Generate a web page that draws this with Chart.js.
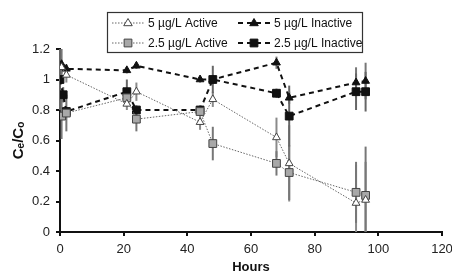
<!DOCTYPE html>
<html>
<head>
<meta charset="utf-8">
<script src="https://cdn.jsdelivr.net/npm/chart.js@4"></script>
<style>
  html, body { margin: 0; padding: 0; background: #fff; }
  #wrap { width: 452px; height: 272px; }
</style>
</head>
<body>
<div id="wrap"><canvas id="chartpoint" width="452" height="272"></canvas></div>
<script>
// hours for each series
const hours_5_active = [0.5, 2, 21, 24, 44, 48, 68, 72, 93, 96];
const ratio_5_active = [1.08, 1.03, 0.84, 0.92, 0.72, 0.87, 0.62, 0.45, 0.19, 0.21];
const err_5_active = [0.04, 0.05, 0.04, 0.06, 0.05, 0.05, 0.13, 0.25, 0.25, 0.25];

const hours_5_inactive = [0.5, 2, 21, 24, 44, 48, 68, 72, 93, 96];
const ratio_5_inactive = [1.1, 1.07, 1.06, 1.09, 1.0, 1.0, 1.11, 0.88, 0.98, 0.99];
const err_5_inactive = [0.1, 0.03, 0.02, 0.02, 0.02, 0.03, 0.04, 0.04, 0.1, 0.12];

const hours_25_active = [0.5, 2, 21, 24, 44, 48, 68, 72, 93, 96];
const ratio_25_active = [0.76, 0.78, 0.88, 0.74, 0.79, 0.58, 0.45, 0.39, 0.26, 0.24];
const err_25_active = [0.15, 0.12, 0.06, 0.08, 0.03, 0.11, 0.08, 0.18, 0.2, 0.32];

const hours_25_inactive = [0, 1, 2, 21, 24, 44, 48, 68, 72, 93, 96];
const ratio_25_inactive = [1.0, 0.9, 0.79, 0.92, 0.8, 0.8, 1.0, 0.91, 0.76, 0.92, 0.92];
const err_25_inactive = [0.2, 0.05, 0.03, 0.08, 0.03, 0.03, 0.09, 0.03, 0.2, 0.12, 0.13];

const labels = ['5 \u00b5g/L Active', '5 \u00b5g/L Inactive', '2.5 \u00b5g/L Active', '2.5 \u00b5g/L Inactive'];
const x_ticks = [0, 20, 40, 60, 80, 100, 120];
const y_ticks = [0, 0.2, 0.4, 0.6, 0.8, 1, 1.2];

function pts(xs, ys) {
    return xs.map((x, i) => ({x: x, y: ys[i]}));
}

const ctx = document.getElementById('chartpoint');

// vertical error bars, drawn under the markers
const errorBars = {
    id: 'errorBars',
    beforeDatasetsDraw(chart) {
        const c = chart.ctx;
        const xs = chart.scales.x, ys = chart.scales.y;
        c.save();
        chart.data.datasets.forEach(ds => {
            if (!ds.errors) return;
            c.strokeStyle = ds.errColor;
            c.lineWidth = 2;
            ds.data.forEach((p, i) => {
                const e = ds.errors[i];
                const px = xs.getPixelForValue(p.x);
                c.beginPath();
                c.moveTo(px, ys.getPixelForValue(Math.max(0, p.y - e)));
                c.lineTo(px, ys.getPixelForValue(p.y + e));
                c.stroke();
            });
        });
        c.restore();
    }
};

function drawMarker(c, ds, x, y) {
    c.save();
    c.fillStyle = ds.pointBackgroundColor;
    c.strokeStyle = ds.pointBorderColor;
    c.lineWidth = 1;
    c.beginPath();
    if (ds.pointStyle === 'triangle') {
        const r = ds.pointRadius;
        c.moveTo(x, y - r);
        c.lineTo(x + r * 0.95, y + r * 0.6);
        c.lineTo(x - r * 0.95, y + r * 0.6);
        c.closePath();
    } else {
        const s = ds.pointRadius * Math.SQRT1_2;
        c.rect(x - s, y - s, 2 * s, 2 * s);
    }
    c.fill();
    c.stroke();
    c.restore();
}

// legend box with line samples
const boxLegend = {
    id: 'boxLegend',
    afterDraw(chart) {
        const c = chart.ctx;
        c.save();
        c.strokeStyle = '#333';
        c.lineWidth = 1.2;
        c.strokeRect(107.5, 12.5, 255, 40);
        const cols = [112, 238];
        const rows = [23, 43];
        chart.data.datasets.forEach((ds, i) => {
            const x0 = cols[i % 2], y0 = rows[Math.floor(i / 2)];
            c.strokeStyle = ds.borderColor;
            c.lineWidth = ds.borderWidth;
            c.setLineDash(ds.borderDash);
            c.beginPath();
            c.moveTo(x0, y0);
            c.lineTo(x0 + 33, y0);
            c.stroke();
            c.setLineDash([]);
            drawMarker(c, ds, x0 + 16, y0);
            c.fillStyle = '#111';
            c.font = '12px "Liberation Sans", Arial, sans-serif';
            c.textBaseline = 'middle';
            c.fillText(ds.label, x0 + 36, y0 + 1);
        });
        c.restore();
    }
};

const config = {
    type: 'scatter',
    data: {
        datasets: [
            {
                label: labels[0],
                data: pts(hours_5_active, ratio_5_active),
                errors: err_5_active,
                errColor: '#8a8a8a',
                showLine: true,
                borderColor: '#666',
                borderWidth: 1,
                borderDash: [1.5, 1.5],
                pointStyle: 'triangle',
                pointRadius: 4.5,
                pointBackgroundColor: '#fff',
                pointBorderColor: '#444',
                pointBorderWidth: 1
            },
            {
                label: labels[1],
                data: pts(hours_5_inactive, ratio_5_inactive),
                errors: err_5_inactive,
                errColor: '#777',
                showLine: true,
                borderColor: '#111',
                borderWidth: 2,
                borderDash: [5, 4],
                pointStyle: 'triangle',
                pointRadius: 4.5,
                pointBackgroundColor: '#111',
                pointBorderColor: '#111',
                pointBorderWidth: 1
            },
            {
                label: labels[2],
                data: pts(hours_25_active, ratio_25_active),
                errors: err_25_active,
                errColor: '#777',
                showLine: true,
                borderColor: '#666',
                borderWidth: 1,
                borderDash: [1.5, 1.5],
                pointStyle: 'rect',
                pointRadius: 5.5,
                pointBackgroundColor: '#a8a8a8',
                pointBorderColor: '#444',
                pointBorderWidth: 1
            },
            {
                label: labels[3],
                data: pts(hours_25_inactive, ratio_25_inactive),
                errors: err_25_inactive,
                errColor: '#666',
                showLine: true,
                borderColor: '#111',
                borderWidth: 2,
                borderDash: [5, 4],
                pointStyle: 'rect',
                pointRadius: 5.5,
                pointBackgroundColor: '#111',
                pointBorderColor: '#111',
                pointBorderWidth: 1
            }
        ]
    },
    options: {
        responsive: false,
        animation: false,
        layout: { padding: { top: 49, left: 0, right: 0, bottom: 0 } },
        plugins: {
            legend: { display: false },
            tooltip: { enabled: false }
        },
        scales: {
            x: {
                type: 'linear',
                min: 0,
                max: 120,
                afterBuildTicks: s => { s.ticks = x_ticks.map(v => ({value: v})); },
                afterFit: s => { s.height = 40; s.paddingRight = 10; s.paddingLeft = 0; },
                border: { color: '#111', width: 2 },
                grid: { drawOnChartArea: false, drawTicks: true, tickLength: 4, color: '#111', lineWidth: 2 },
                ticks: { color: '#222', padding: 6, font: { family: '"Liberation Sans", Arial, sans-serif', size: 13 } },
                title: { display: true, text: 'Hours', color: '#111', padding: { top: 4, bottom: -3 },
                         font: { family: '"Liberation Sans", Arial, sans-serif', size: 13, weight: 'bold' } }
            },
            y: {
                min: 0,
                max: 1.2,
                afterBuildTicks: s => { s.ticks = y_ticks.map(v => ({value: v})); },
                afterFit: s => { s.width = 60; s.paddingTop = 0; s.paddingBottom = 0; },
                border: { color: '#111', width: 2 },
                grid: { drawOnChartArea: false, drawTicks: true, tickLength: 4, color: '#111', lineWidth: 2 },
                ticks: { color: '#222', padding: 6, font: { family: '"Liberation Sans", Arial, sans-serif', size: 13 },
                         callback: v => String(v) },
                title: { display: true, text: 'C\u2091/C\u2092', color: '#111', padding: { top: 10, bottom: 0 },
                         font: { family: '"Liberation Sans", Arial, sans-serif', size: 15, weight: 'bold' } }
            }
        }
    },
    plugins: [errorBars, boxLegend]
};

var chart = new Chart(ctx, config);
</script>
</body>
</html>
